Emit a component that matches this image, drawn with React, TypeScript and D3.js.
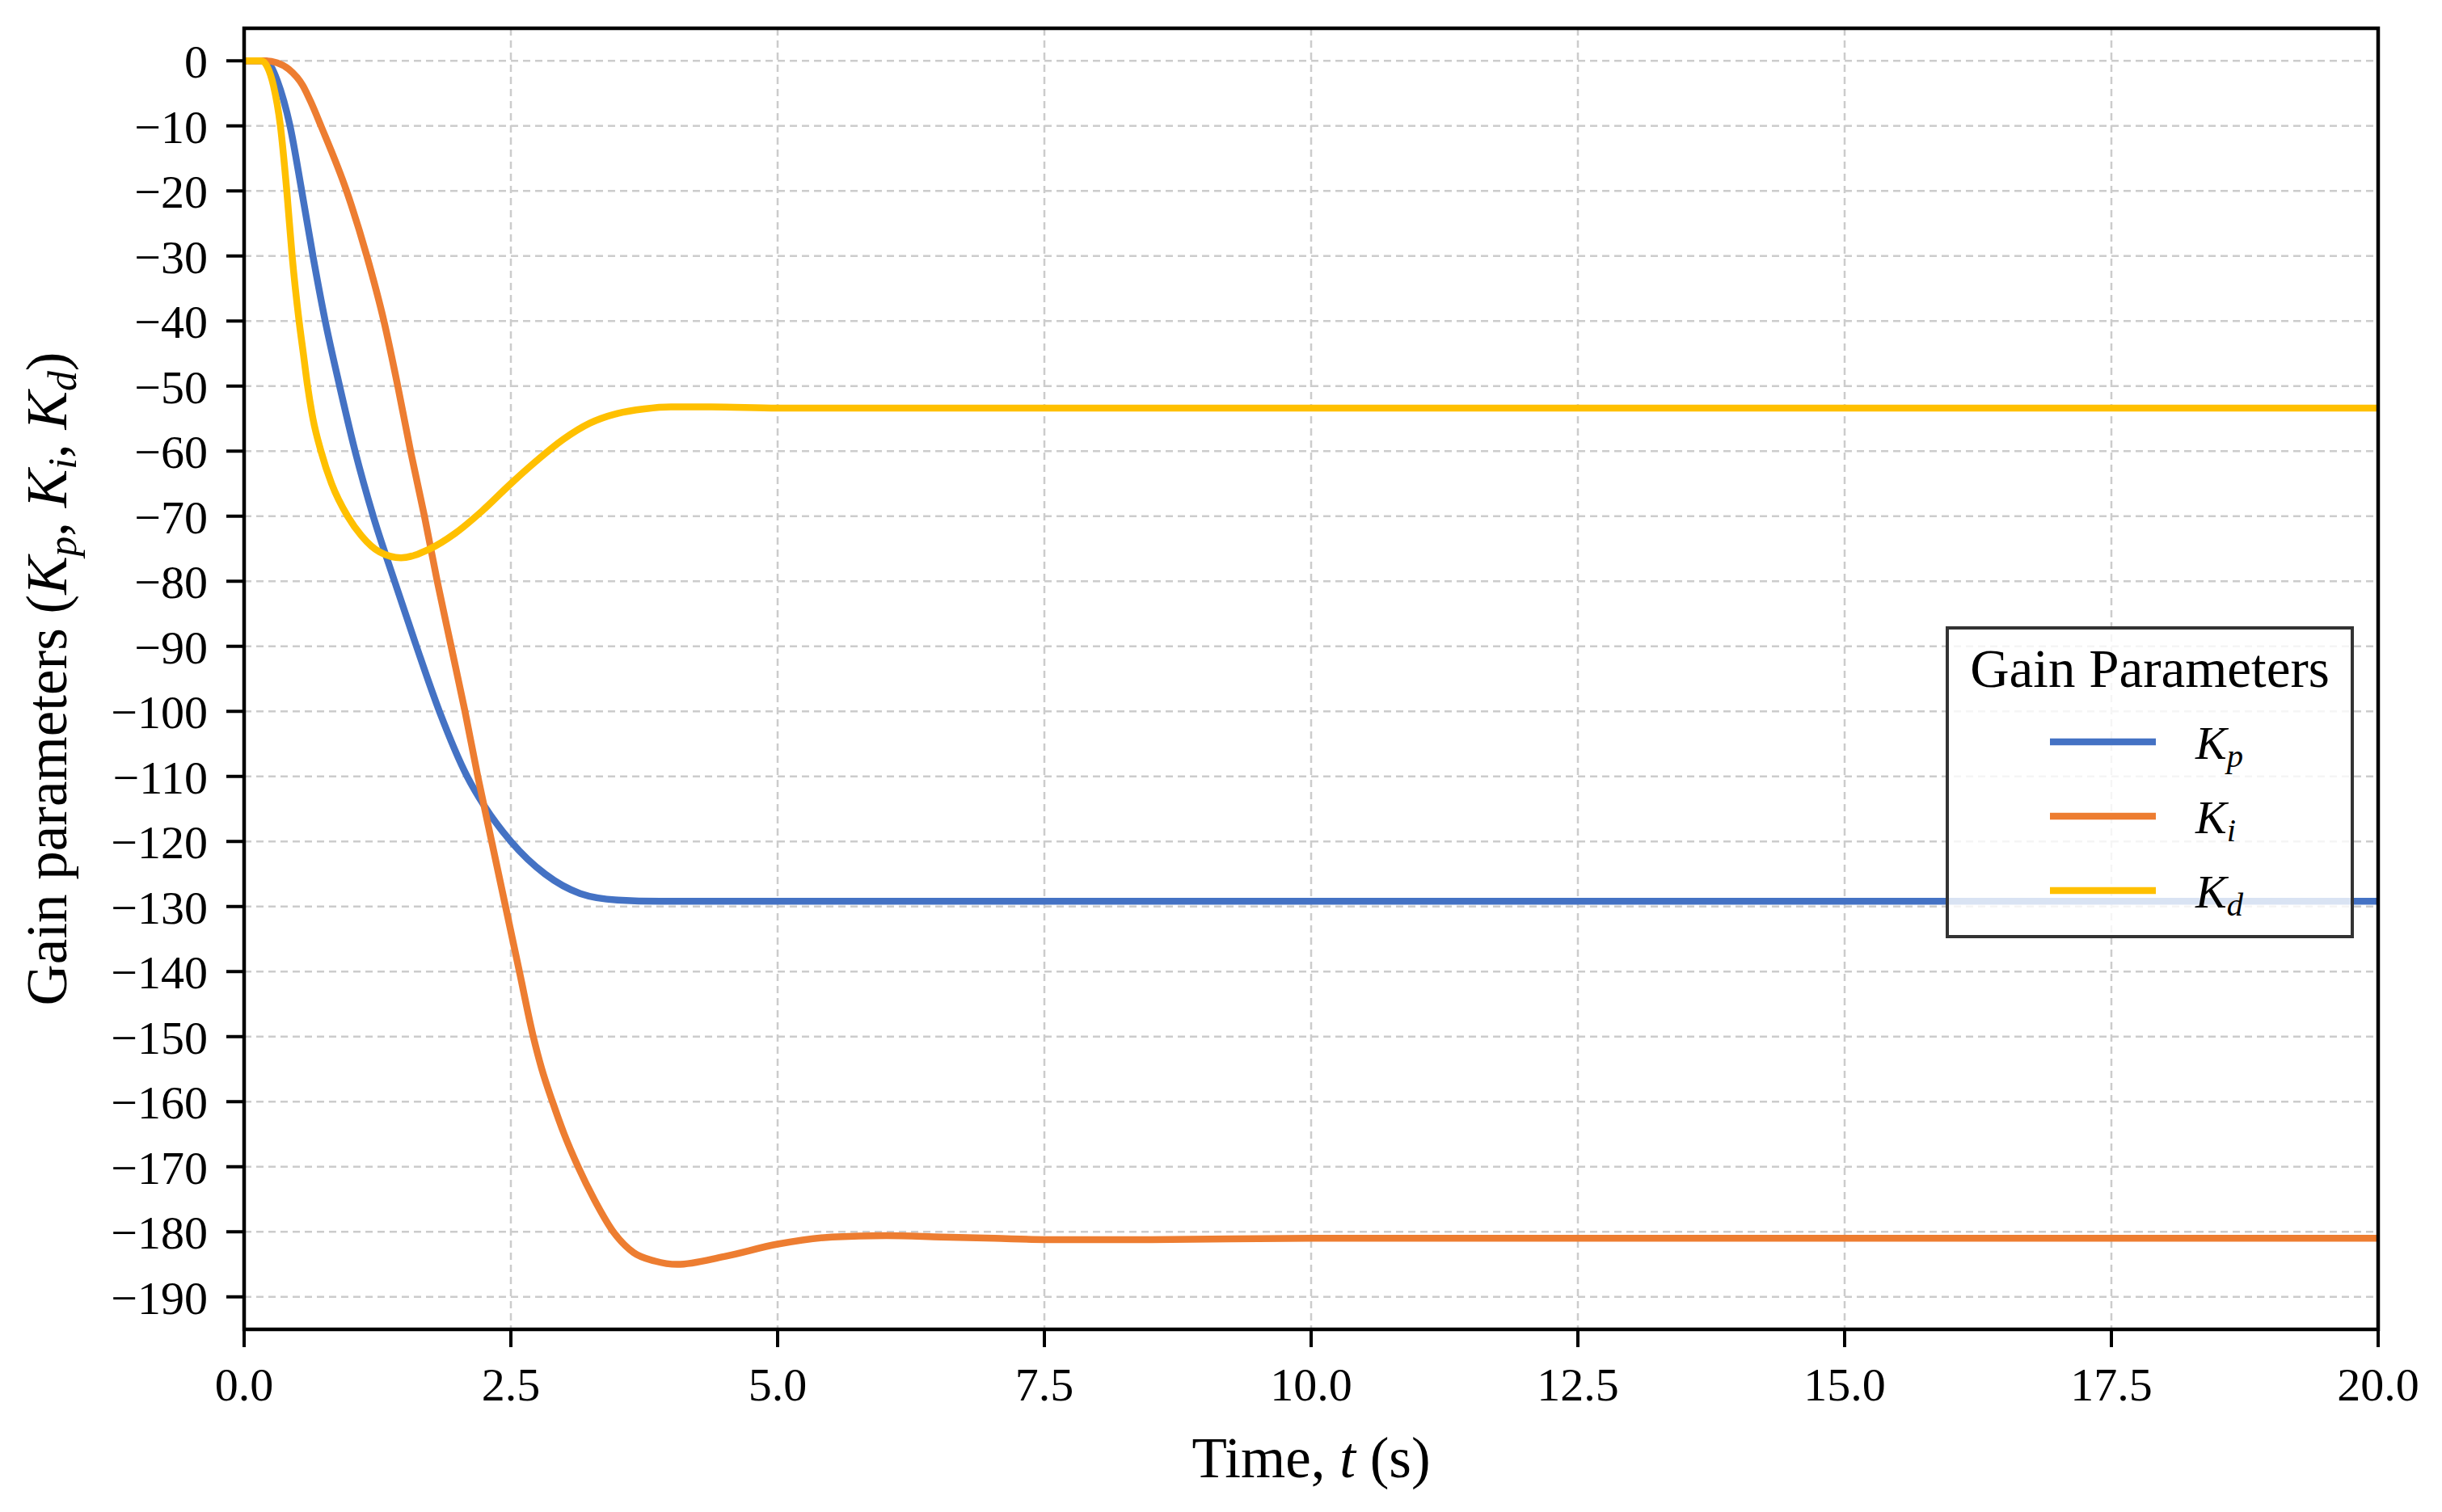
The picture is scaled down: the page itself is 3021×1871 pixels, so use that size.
import { scaleLinear, line, curveMonotoneX } from "d3"

const W = 3021
const H = 1871
const M = { left: 302, right: 79, top: 35, bottom: 226 }

const xTicks = [0, 2.5, 5, 7.5, 10, 12.5, 15, 17.5, 20]
const xTickLabels = ["0.0", "2.5", "5.0", "7.5", "10.0", "12.5", "15.0", "17.5", "20.0"]
const yTicks = [0, -10, -20, -30, -40, -50, -60, -70, -80, -90, -100, -110, -120, -130, -140, -150, -160, -170, -180, -190]

// Kp (blue)
const kpTime = [0, 0.2, 0.25, 0.31, 0.43, 0.54, 0.645, 0.76, 0.895, 1.04, 1.21, 1.41, 1.615, 1.83, 2.09, 2.25, 2.5, 2.82, 3.15, 3.5, 3.9, 5, 10, 20]
const kpValues = [0, 0, -0.8, -3, -10, -20, -30, -40, -50, -60, -70, -80, -90, -100, -110, -114.5, -120, -125, -128, -129, -129.2, -129.2, -129.2, -129.2]

// Ki (orange)
const kiTime = [0, 0.2, 0.31, 0.42, 0.55, 0.63, 0.72, 0.96, 1.15, 1.31, 1.44, 1.56, 1.69, 1.81, 1.94, 2.07, 2.19, 2.32, 2.45, 2.58, 2.71, 2.79, 2.89, 3.0, 3.13, 3.28, 3.46, 3.65, 3.85, 4.06, 4.5, 5.0, 5.51, 6.02, 6.53, 7.03, 7.5, 8.5, 10, 20]
const kiValues = [0, 0, -0.3, -1.3, -3.8, -6.5, -10, -20, -30, -40, -50, -60, -70, -80, -90, -100, -110, -120, -130, -140, -150, -155, -160, -165, -170, -175, -180, -183.2, -184.5, -185, -183.8, -181.9, -180.8, -180.6, -180.8, -181.0, -181.2, -181.2, -181.0, -181.0]

// Kd (yellow)
const kdTime = [0, 0.16, 0.22, 0.275, 0.34, 0.4, 0.45, 0.515, 0.555, 0.595, 0.645, 0.72, 0.82, 0.97, 1.1, 1.27, 1.47, 1.73, 1.98, 2.23, 2.5, 2.74, 2.99, 3.24, 3.5, 3.75, 4.0, 4.38, 5, 10, 20]
const kdValues = [0, 0, -1, -3.8, -10, -20, -30, -40, -45, -50, -55, -60, -65, -70, -73, -75.5, -76.4, -75.1, -72.6, -69.2, -65, -61.5, -58.2, -55.7, -54.2, -53.5, -53.2, -53.2, -53.4, -53.4, -53.4]

const seriesNames = ["p", "i", "d"]
const seriesColors = ["#4472C4", "#ED7D31", "#FFC000"]

const FONT = "'Liberation Serif', 'Times New Roman', serif"

// italic K with a lowered subscript; the text after it is lifted back to the baseline
function Sub({ sub, size, after }: { sub: string; size: number; after?: string }) {
  const shift = size * 0.17
  return (
    <>
      <tspan fontStyle="italic">K</tspan>
      <tspan fontStyle="italic" fontSize={size * 0.7} dy={shift}>
        {sub}
      </tspan>
      {after ? <tspan dy={-shift}>{after}</tspan> : null}
    </>
  )
}

export default function App() {
  const x = scaleLinear().domain([0, 20]).range([M.left, W - M.right])
  const y = scaleLinear().domain([-195, 5]).range([H - M.bottom, M.top])

  const series = [
    { t: kpTime, v: kpValues },
    { t: kiTime, v: kiValues },
    { t: kdTime, v: kdValues },
  ]

  const gen = line<[number, number]>()
    .x((d) => x(d[0]))
    .y((d) => y(d[1]))
    .curve(curveMonotoneX)

  const x0 = M.left
  const x1 = W - M.right
  const y0 = M.top
  const y1 = H - M.bottom

  // legend box
  const lg = { left: 2409, right: 2910, top: 777, bottom: 1159 }
  const legendRows = [918, 1010, 1102]

  return (
    <div style={{ position: "absolute", left: 0, top: 0, background: "#fff" }}>
      <svg width={W} height={H} viewBox={`0 0 ${W} ${H}`} fontFamily={FONT}>
        <rect width={W} height={H} fill="#fff" />
        <defs>
          <clipPath id="plot">
            <rect x={x0} y={y0} width={x1 - x0} height={y1 - y0} />
          </clipPath>
        </defs>

        {/* grid */}
        <g stroke="#cccccc" strokeWidth={2.5} strokeDasharray="9 6">
          {xTicks.map((t) => (
            <line key={"gx" + t} x1={x(t)} x2={x(t)} y1={y0} y2={y1} />
          ))}
          {yTicks.map((t) => (
            <line key={"gy" + t} x1={x0} x2={x1} y1={y(t)} y2={y(t)} />
          ))}
        </g>

        {/* curves */}
        <g clipPath="url(#plot)" fill="none" strokeWidth={8.5} strokeLinejoin="round" strokeLinecap="round">
          {series.map((s, i) => (
            <path
              key={i}
              d={gen(s.t.map((t, j) => [t, s.v[j]] as [number, number])) ?? ""}
              stroke={seriesColors[i]}
            />
          ))}
        </g>

        {/* frame */}
        <rect x={x0} y={y0} width={x1 - x0} height={y1 - y0} fill="none" stroke="#000" strokeWidth={4.5} />

        {/* x ticks */}
        {xTicks.map((t, i) => (
          <g key={"xt" + t}>
            <line x1={x(t)} x2={x(t)} y1={y1} y2={y1 + 22} stroke="#000" strokeWidth={4} />
            <text x={x(t)} y={1733} fontSize={58} textAnchor="middle" fill="#000">
              {xTickLabels[i]}
            </text>
          </g>
        ))}

        {/* y ticks */}
        {yTicks.map((t) => (
          <g key={"yt" + t}>
            <line x1={x0 - 22} x2={x0} y1={y(t)} y2={y(t)} stroke="#000" strokeWidth={4} />
            <text x={257} y={y(t) + 21} fontSize={58} textAnchor="end" fill="#000">
              {t < 0 ? `\u2212${Math.abs(t)}` : `${t}`}
            </text>
          </g>
        ))}

        {/* axis labels */}
        <text x={(x0 + x1) / 2} y={1828} fontSize={71} textAnchor="middle" fill="#000">
          Time, <tspan fontStyle="italic">t</tspan> (s)
        </text>
        <text
          transform={`translate(82, ${(y0 + y1) / 2}) rotate(-90)`}
          fontSize={71}
          textAnchor="middle"
          fill="#000"
        >
          Gain parameters (<Sub sub="p" size={71} after=", " />
          <Sub sub="i" size={71} after=", " />
          <Sub sub="d" size={71} after=")" />
        </text>

        {/* legend */}
        <rect
          x={lg.left}
          y={lg.top}
          width={lg.right - lg.left}
          height={lg.bottom - lg.top}
          fill="#fff"
          fillOpacity={0.8}
          stroke="#333"
          strokeWidth={4}
        />
        <text x={(lg.left + lg.right) / 2} y={850} fontSize={67} textAnchor="middle" fill="#000">
          Gain Parameters
        </text>
        {seriesNames.map((n, i) => (
          <g key={n}>
            <line x1={2536} x2={2667} y1={legendRows[i]} y2={legendRows[i]} stroke={seriesColors[i]} strokeWidth={8.5} />
            <text x={2716} y={legendRows[i] + 21} fontSize={58} fill="#000">
              <Sub sub={n} size={58} />
            </text>
          </g>
        ))}
      </svg>
    </div>
  )
}
